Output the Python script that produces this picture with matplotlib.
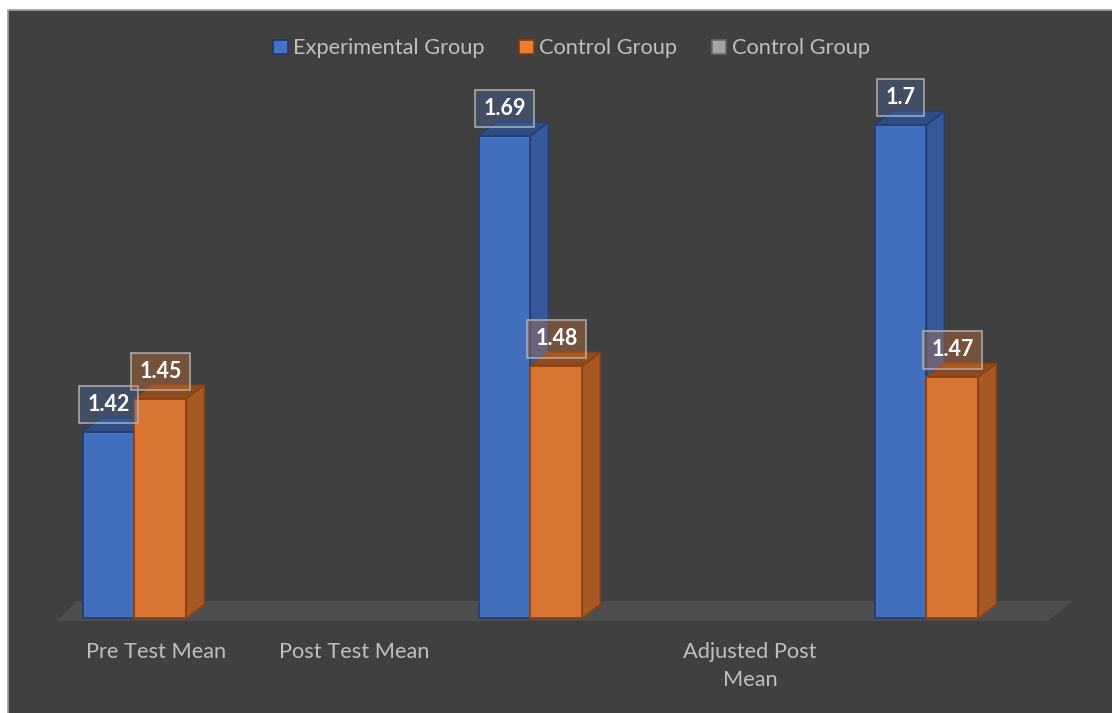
import matplotlib
matplotlib.use("Agg")
import matplotlib.pyplot as plt
from matplotlib.patches import Polygon, Rectangle, Patch

# ---------------- data ----------------
categories = ["Pre Test Mean", "Post Test Mean", "", "Adjusted Post\nMean", ""]
series_names = ["Experimental Group", "Control Group", "Control Group"]
experimental = [1.42, None, 1.69, None, 1.70]
control = [1.45, None, 1.48, None, 1.47]
control_2 = [None, None, None, None, None]
y_min, y_max = 1.25, 1.75

# ---------------- style ----------------
plt.rcParams['font.family'] = ['Lato', 'DejaVu Sans']
W, H = 1112, 713
BG = "#404040"
TXT = "#bfbfbf"
FS = 15.7

styles = [
    dict(front="#4270BE", side="#35599A", top="#2F4E86", edge="#223F73", box=(0.27, 0.45, 0.77, 0.28), leg="#4472C4", legedge="#1F3864"),
    dict(front="#DA7432", side="#A85A25", top="#8F4B1E", edge="#8A4212", box=(0.93, 0.49, 0.19, 0.30), leg="#ED7D31", legedge="#843C0C"),
    dict(front="#A5A5A5", side="#808080", top="#707070", edge="#606060", box=(0.65, 0.65, 0.65, 0.30), leg="#A5A5A5", legedge="#6B6B6B"),
]
offsets = [-0.24, 0.022, 0.284]
bar_w = 0.262

fig = plt.figure(figsize=(W / 100, H / 100), dpi=100)
fig.patch.set_facecolor("white")
fig.add_artist(Rectangle((8 / W, -0.01), 1.0, 1.01 - 9.5 / H, transform=fig.transFigure,
                         facecolor=BG, edgecolor="#a0a0a0", lw=1.3, zorder=0))

ax = fig.add_axes([57 / W, (H - 618) / H, 990 / W, 548 / H])
ax.set_xlim(-0.5, len(categories) - 0.5)
ax.set_ylim(y_min, y_max)
ax.patch.set_alpha(0)
for s in ax.spines.values():
    s.set_visible(False)
ax.set_yticks([])
ax.set_xticks(range(len(categories)))
ax.set_xticklabels(categories, color=TXT, fontsize=FS, linespacing=1.45)
ax.tick_params(axis="x", length=0, pad=17.5)

# pixel scale of the data axes
p0 = ax.transData.transform((0, y_min))
p1 = ax.transData.transform((1, y_max))
px_x = p1[0] - p0[0]
px_y = (p1[1] - p0[1]) / (y_max - y_min)
dx, dy = 18 / px_x, 13.5 / px_y

# floor
x_lo, x_hi = -0.5, len(categories) - 0.5
floor = Polygon([(x_lo, y_min - 3 / px_y), (x_lo + 20 / px_x, y_min + 17 / px_y),
                 (x_hi + 26 / px_x, y_min + 17 / px_y), (x_hi, y_min - 3 / px_y)],
                closed=True, facecolor="#4f4e4f", edgecolor="none", clip_on=False, zorder=1)
ax.add_patch(floor)


def draw_bar(x, v, st, z):
    xl, xr = x - bar_w / 2, x + bar_w / 2
    side = Polygon([(xr, y_min), (xr + dx, y_min + dy), (xr + dx, v + dy), (xr, v)],
                   closed=True, facecolor=st["side"], edgecolor=st["edge"], lw=1.1,
                   clip_on=False, zorder=z)
    top = Polygon([(xl, v), (xl + dx, v + dy), (xr + dx, v + dy), (xr, v)],
                  closed=True, facecolor=st["top"], edgecolor=st["edge"], lw=1.1,
                  clip_on=False, zorder=z)
    ax.add_patch(side)
    ax.add_patch(top)
    ax.bar(x, v - y_min, bottom=y_min, width=bar_w, color=st["front"],
           edgecolor=st["edge"], lw=1.3, zorder=z + 0.1, clip_on=False)


all_series = [experimental, control, control_2]
for si, (vals, st) in enumerate(zip(all_series, styles)):
    for ci, v in enumerate(vals):
        if v is None:
            continue
        draw_bar(ci + offsets[si], v, st, 3 + si)

# data labels
for si, (vals, st) in enumerate(zip(all_series, styles)):
    for ci, v in enumerate(vals):
        if v is None:
            continue
        ax.annotate(f"{v:g}", xy=(ci + offsets[si], v), xytext=(0, 27 * 0.72),
                    textcoords="offset points", ha="center", va="center",
                    color="white", fontsize=15.5, fontweight="bold", zorder=10,
                    bbox=dict(boxstyle="square,pad=0.38", fc=st["box"], ec="#b0b0b0", lw=1.1))

# legend
handles = [Patch(facecolor=st["leg"], edgecolor=st["legedge"], lw=1.2) for st in styles]
fig.legend(handles, series_names, loc="center", bbox_to_anchor=(571.5 / W, 1 - 48.5 / H),
           ncol=3, frameon=False, fontsize=FS, labelcolor=TXT,
           handlelength=0.65, handleheight=0.65, handletextpad=0.25, columnspacing=1.6)

fig.savefig("out.png", dpi=100, facecolor=fig.get_facecolor())
